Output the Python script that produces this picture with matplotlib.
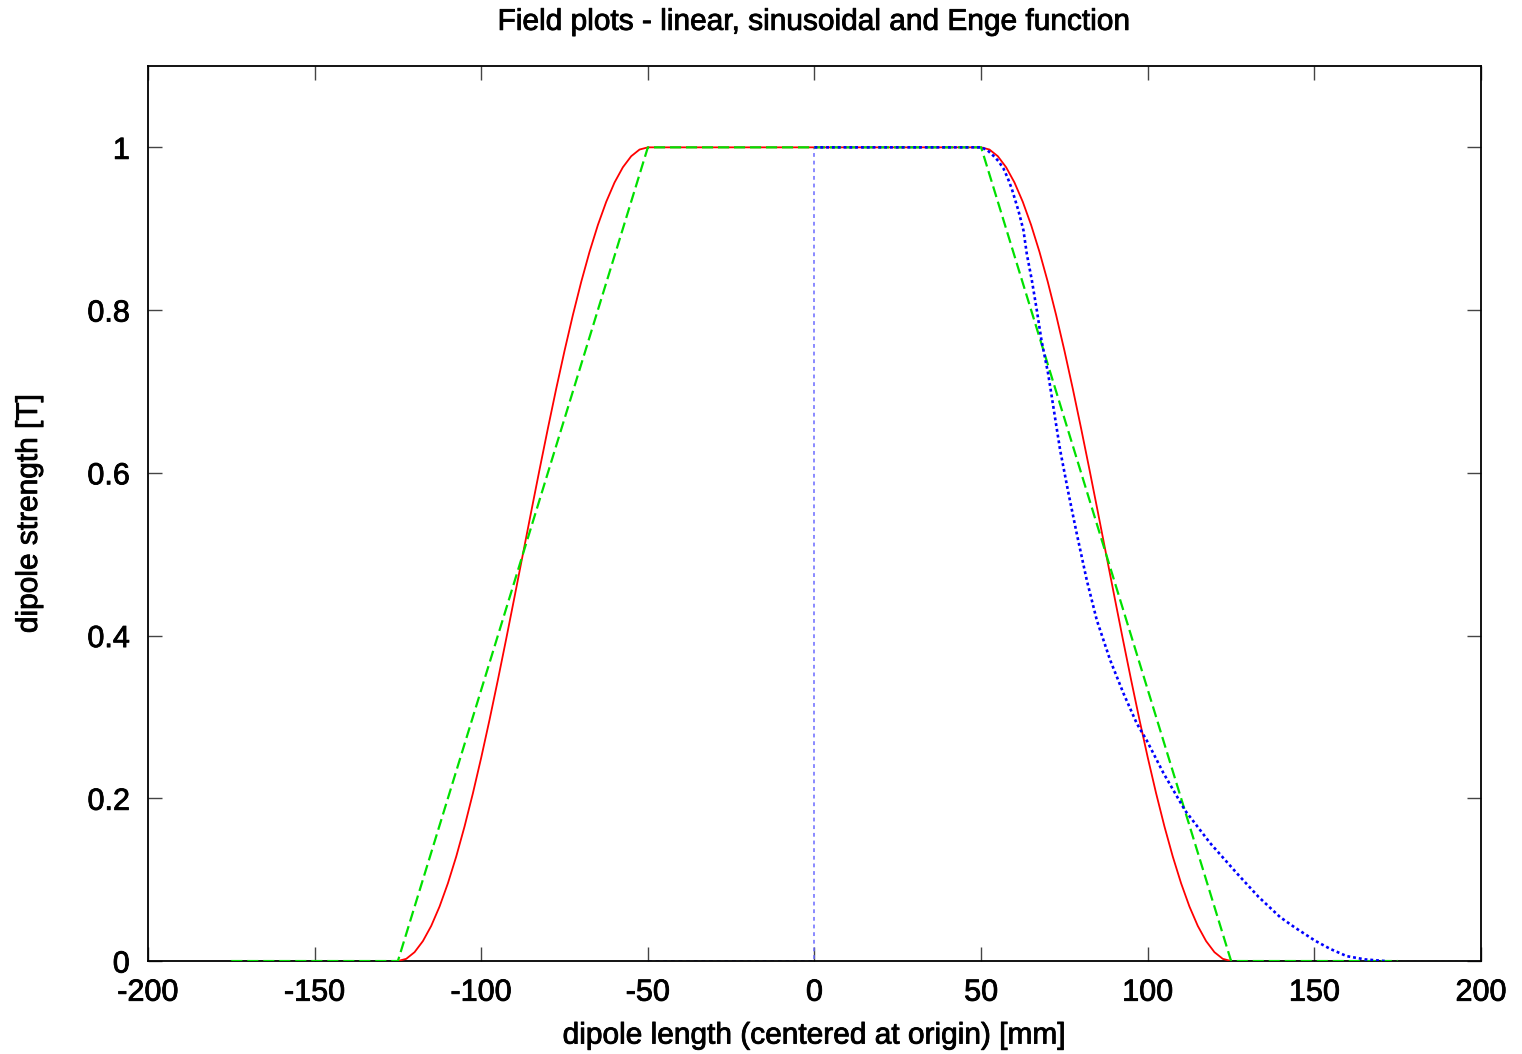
import matplotlib
matplotlib.use("Agg")
import matplotlib.pyplot as plt
import matplotlib.patheffects as pe

plt.rcParams['font.family'] = ['Liberation Sans', 'DejaVu Sans']

# Sinusoidal field (red)
sin_x = [-125, -122.5, -120, -117.5, -115, -112.5, -110, -107.5, -105, -102.5, -100, -97.5, -95, -92.5,
         -90, -87.5, -85, -82.5, -80, -77.5, -75, -72.5, -70, -67.5, -65, -62.5, -60, -57.5, -55, -52.5, -50,
         50, 52.5, 55, 57.5, 60, 62.5, 65, 67.5, 70, 72.5, 75, 77.5, 80, 82.5, 85, 87.5, 90, 92.5, 95,
         97.5, 100, 102.5, 105, 107.5, 110, 112.5, 115, 117.5, 120, 122.5, 125]
sin_y = [0.0, 0.0027, 0.0109, 0.0245, 0.0432, 0.067, 0.0955, 0.1284, 0.1654, 0.2061, 0.25, 0.2966,
         0.3455, 0.396, 0.4477, 0.5, 0.5523, 0.604, 0.6545, 0.7034, 0.75, 0.7939, 0.8346, 0.8716,
         0.9045, 0.933, 0.9568, 0.9755, 0.9891, 0.9973, 1.0,
         1.0, 0.9973, 0.9891, 0.9755, 0.9568, 0.933, 0.9045, 0.8716, 0.8346, 0.7939, 0.75, 0.7034,
         0.6545, 0.604, 0.5523, 0.5, 0.4477, 0.396, 0.3455, 0.2966, 0.25, 0.2061, 0.1654, 0.1284,
         0.0955, 0.067, 0.0432, 0.0245, 0.0109, 0.0027, 0.0]

# Linear field (green)
lin_x = [-175, -125, -50, 50, 125, 175]
lin_y = [0.0, 0.0, 1.0, 1.0, 0.0, 0.0]

# Enge function (blue)
enge_base_x = [-50, 0, 0]
enge_base_y = [0.0, 0.0, 1.0]
enge_x = [0, 50, 50.6, 52.0, 53.6, 55.2, 56.7, 58.0, 59.2, 61.2, 62.7, 63.7, 65.2, 66.7, 68.1, 70.1,
          73.7, 76.2, 78.7, 81.7, 84.7, 88.7, 92.7, 96.7, 99.7, 104.7, 111.2, 118.7, 126.7, 133.2,
          139.7, 144.2, 150.2, 154.7, 159.7, 165.2, 171.2]
enge_y = [1.0, 1.0, 0.999, 0.996, 0.990, 0.983, 0.974, 0.962, 0.949, 0.922, 0.898, 0.869, 0.837,
          0.800, 0.763, 0.722, 0.628, 0.575, 0.525, 0.468, 0.419, 0.370, 0.329, 0.292, 0.271, 0.231,
          0.185, 0.145, 0.108, 0.079, 0.054, 0.041, 0.025, 0.015, 0.006, 0.002, 0.0]
enge_tail_x = [171.2, 200]
enge_tail_y = [0.0, 0.0]

xticks = [-200, -150, -100, -50, 0, 50, 100, 150, 200]
yticks = [0, 0.2, 0.4, 0.6, 0.8, 1]
ytick_labels = ['0', '0.2', '0.4', '0.6', '0.8', '1']

fig = plt.figure(figsize=(15.22, 10.54), dpi=100)
ax = fig.add_axes([0.0972, 0.0882, 0.9731 - 0.0972, 0.9374 - 0.0882])

ax.plot(sin_x, sin_y, color='#ff0000', lw=1.3, zorder=3)
ax.plot(lin_x, lin_y, color='#00e000', lw=1.6, dashes=(5, 2.2), zorder=4)
ax.plot(enge_base_x, enge_base_y, color='#6a6aff', lw=1.1, dashes=(2.5, 2.5), zorder=2)
ax.plot(enge_x, enge_y, color='#0000ff', lw=1.9, dashes=(1.1, 1.1), zorder=5)
ax.plot(enge_tail_x, enge_tail_y, color='#a0a0ff', lw=1.0, dashes=(2.5, 2.5), zorder=2)

ax.set_xlim(-200, 200)
ax.set_ylim(0, 1.1)
ax.set_xticks(xticks)
ax.set_xticklabels([str(t) for t in xticks])
ax.set_yticks(yticks)
ax.set_yticklabels(ytick_labels)
ax.tick_params(direction='in', length=10, width=1.0, color='#444444', labelsize=22,
               top=True, right=True)
ax.tick_params(axis='x', pad=12)
ax.tick_params(axis='y', pad=13)
for s in ax.spines.values():
    s.set_linewidth(1.3)
    s.set_color('black')

stroke = [pe.withStroke(linewidth=0.6, foreground='black')]
for lbl in ax.get_xticklabels() + ax.get_yticklabels():
    lbl.set_path_effects(stroke)

t = ax.set_title('Field plots - linear, sinusoidal and Enge function', fontsize=21.5, pad=26)
xl = ax.set_xlabel('dipole length (centered at origin) [mm]', fontsize=21.5, labelpad=10)
yl = ax.set_ylabel('dipole strength [T]', fontsize=21.5, labelpad=32)
for txt in (t, xl, yl):
    txt.set_path_effects(stroke)

fig.savefig('out.png', dpi=100)
